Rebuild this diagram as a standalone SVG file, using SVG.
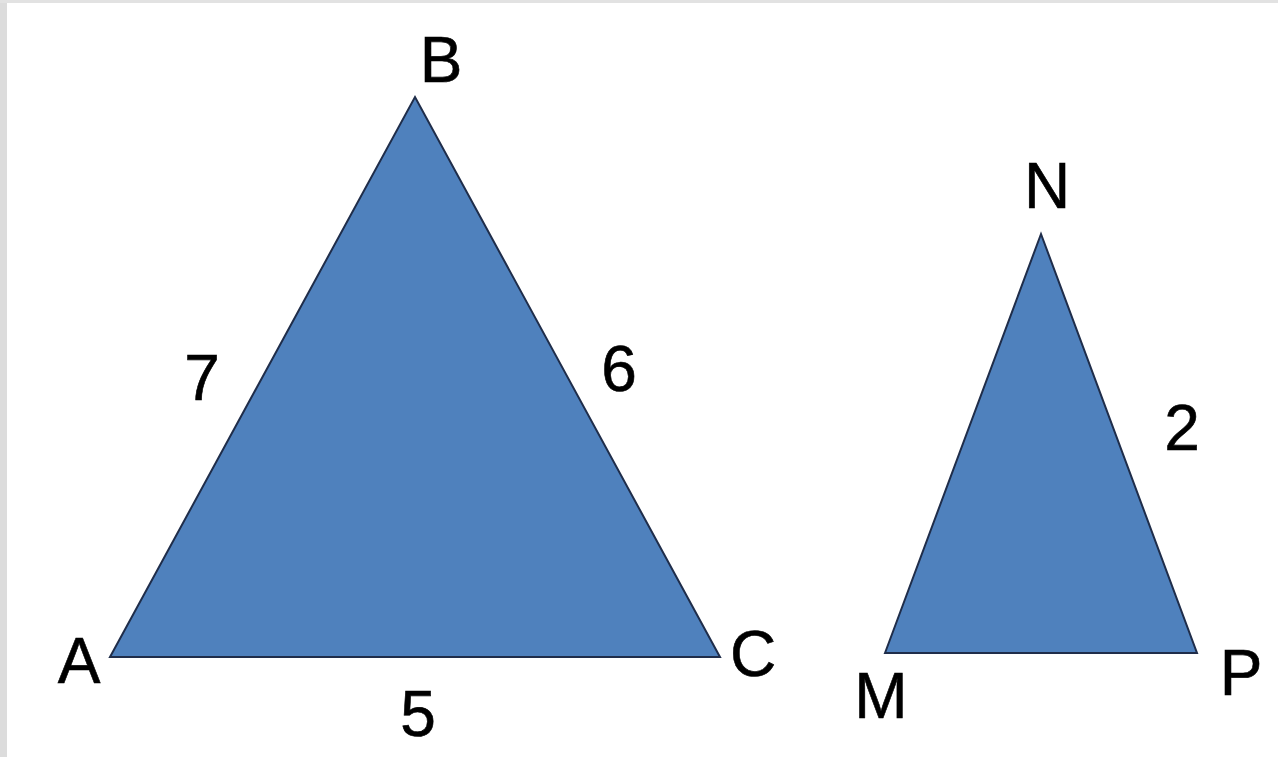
<svg xmlns="http://www.w3.org/2000/svg" width="1278" height="757" viewBox="0 0 1278 757">
<style>
.tri{fill:#4F81BD;stroke:#1F2D4A;stroke-width:2;stroke-linejoin:miter}
.lbl{font-family:"Liberation Sans",Arial,sans-serif;font-size:64px;fill:#000;stroke:#000;stroke-width:0.6}
</style>
<rect x="0" y="0" width="1278" height="757" fill="#ffffff"/>
<rect x="0" y="0" width="7" height="757" fill="#dcdcdc"/>
<rect x="0" y="0" width="1278" height="3" fill="#e2e2e2"/>
<g id="triangle-ABC">
<polygon class="tri" points="110,657 415,97 720,657"/>
</g>
<g id="triangle-MNP">
<polygon class="tri" points="885,653 1041,234 1197,653"/>
</g>
<g id="labels">
<text class="lbl" x="441" y="82" text-anchor="middle">B</text>
<text class="lbl" x="79" y="683" text-anchor="middle">A</text>
<text class="lbl" x="753" y="676" text-anchor="middle">C</text>
<text class="lbl" x="202" y="400" text-anchor="middle">7</text>
<text class="lbl" x="619" y="391" text-anchor="middle">6</text>
<text class="lbl" x="418" y="736" text-anchor="middle">5</text>
<text class="lbl" x="1047" y="208" text-anchor="middle">N</text>
<text class="lbl" x="1182" y="450" text-anchor="middle">2</text>
<text class="lbl" x="881" y="718" text-anchor="middle">M</text>
<text class="lbl" x="1241" y="695" text-anchor="middle">P</text>
</g>
</svg>
